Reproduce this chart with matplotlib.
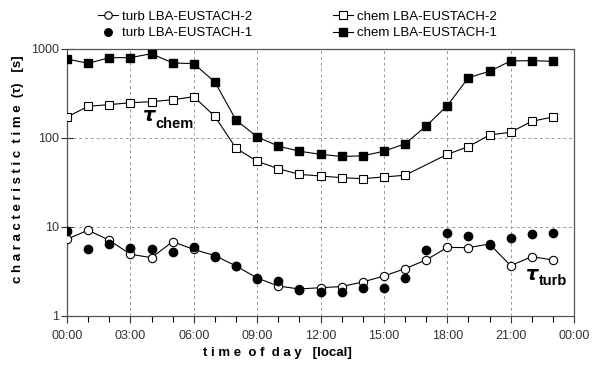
import numpy as np
import matplotlib.pyplot as plt
from matplotlib.ticker import FixedLocator, MultipleLocator, NullFormatter

plt.rcParams['font.family'] = ['Liberation Sans', 'DejaVu Sans']

hours = np.arange(24)

# characteristic times [s]
chem_eu1 = [772, 690, 798, 800, 885, 697, 684, 426, 159, 103, 81, 71, 65.5,
            62, 63, 71, 86, 136, 231, 476, 561, 733, 739, 727]
# chem LBA-EUSTACH-2 has no value at 17:00
hours_chem2 = [h for h in range(24) if h != 17]
chem_eu2 = [172, 227, 237, 249, 256, 269, 291, 175, 76.6, 54.7, 45.2, 39, 37.4,
            35.8, 34.9, 36.5, 38.1, 65.5, 80, 108, 116, 154, 172]
turb_eu1 = [9.0, 5.6, 6.4, 5.76, 5.66, 5.28, 6.0, 4.6, 3.6, 2.63, 2.45, 1.94, 1.85,
            1.88, 2.06, 2.08, 2.67, 5.47, 8.5, 8.0, 6.3, 7.6, 8.3, 8.6]
turb_eu2 = [7.3, 9.2, 7.1, 4.94, 4.52, 6.84, 5.6, 4.76, 3.65, 2.67, 2.17, 2.01, 2.08,
            2.14, 2.41, 2.81, 3.4, 4.26, 5.9, 5.86, 6.44, 3.68, 4.64, 4.26]

xtick_pos = np.arange(0, 25, 3)
xtick_labels = ['00:00', '03:00', '06:00', '09:00', '12:00', '15:00', '18:00', '21:00', '00:00']

fig = plt.figure(figsize=(6.02, 3.70), dpi=100)
ax = fig.add_axes([0.1113, 0.146, 0.8422, 0.7216])

lw = 0.8
ms = 6
l_t2, = ax.plot(hours, turb_eu2, '-o', color='black', lw=lw, ms=ms, mfc='white',
                mec='black', mew=0.8, label='turb LBA-EUSTACH-2', zorder=3)
l_t1, = ax.plot(hours, turb_eu1, 'o', color='black', ms=ms, mfc='black',
                label='turb LBA-EUSTACH-1', zorder=4)
l_c2, = ax.plot(hours_chem2, chem_eu2, '-s', color='black', lw=lw, ms=ms, mfc='white',
                mec='black', mew=0.8, label='chem LBA-EUSTACH-2', zorder=3)
l_c1, = ax.plot(hours, chem_eu1, '-s', color='black', lw=lw, ms=ms, mfc='black',
                label='chem LBA-EUSTACH-1', zorder=3)

ax.set_yscale('log')
ax.set_ylim(1, 1000)
ax.set_xlim(0, 24)
ax.yaxis.set_major_locator(FixedLocator([1, 10, 100, 1000]))
ax.yaxis.set_minor_locator(FixedLocator([]))
ax.set_yticklabels(['1', '10', '100', '1000'])
ax.set_xticks(xtick_pos)
ax.set_xticklabels(xtick_labels)
ax.xaxis.set_minor_locator(MultipleLocator(1))
ax.xaxis.set_minor_formatter(NullFormatter())

ax.tick_params(axis='x', which='major', direction='out', length=5, width=0.8,
               labelsize=9, colors='#333333', pad=5)
ax.tick_params(axis='x', which='minor', direction='out', length=4, width=0.8)
ax.tick_params(axis='y', which='major', direction='inout', length=8, width=0.8,
               labelsize=9, colors='#333333', pad=2)

for s in ax.spines.values():
    s.set_color('#555555')
    s.set_linewidth(0.9)

ax.grid(True, which='major', ls=(0, (3, 3)), color='#999999', lw=0.7)
ax.set_axisbelow(True)

ax.set_xlabel('t i m e  o f  d a y   [local]', fontsize=9.5, fontweight='bold')
ax.xaxis.set_label_coords(0.416, -0.115)
ax.set_ylabel('c h a r a c t e r i s t i c  t i m e  (τ)   [s]', fontsize=9.5,
              fontweight='bold')
ax.yaxis.set_label_coords(-0.085, 0.55)

# annotations
ax.text(3.6, 178, 'τ', fontsize=14, fontweight='bold', fontstyle='italic',
        ha='left', va='center', family=['DejaVu Sans'])
ax.text(4.2, 145, 'chem', fontsize=10.5, fontweight='bold', ha='left', va='center')
ax.text(21.75, 2.95, 'τ', fontsize=14, fontweight='bold', fontstyle='italic',
        ha='left', va='center', family=['DejaVu Sans'])
ax.text(22.35, 2.45, 'turb', fontsize=10.5, fontweight='bold', ha='left', va='center')

fig.legend(handles=[l_t2, l_t1, l_c2, l_c1], loc='upper center', ncol=2,
           bbox_to_anchor=(0.494, 1.004), frameon=False, fontsize=9.5,
           markerscale=0.9, handlelength=1.5, handletextpad=0.3,
           columnspacing=6.1, labelspacing=0.35)

fig.savefig('out.png', dpi=100)
